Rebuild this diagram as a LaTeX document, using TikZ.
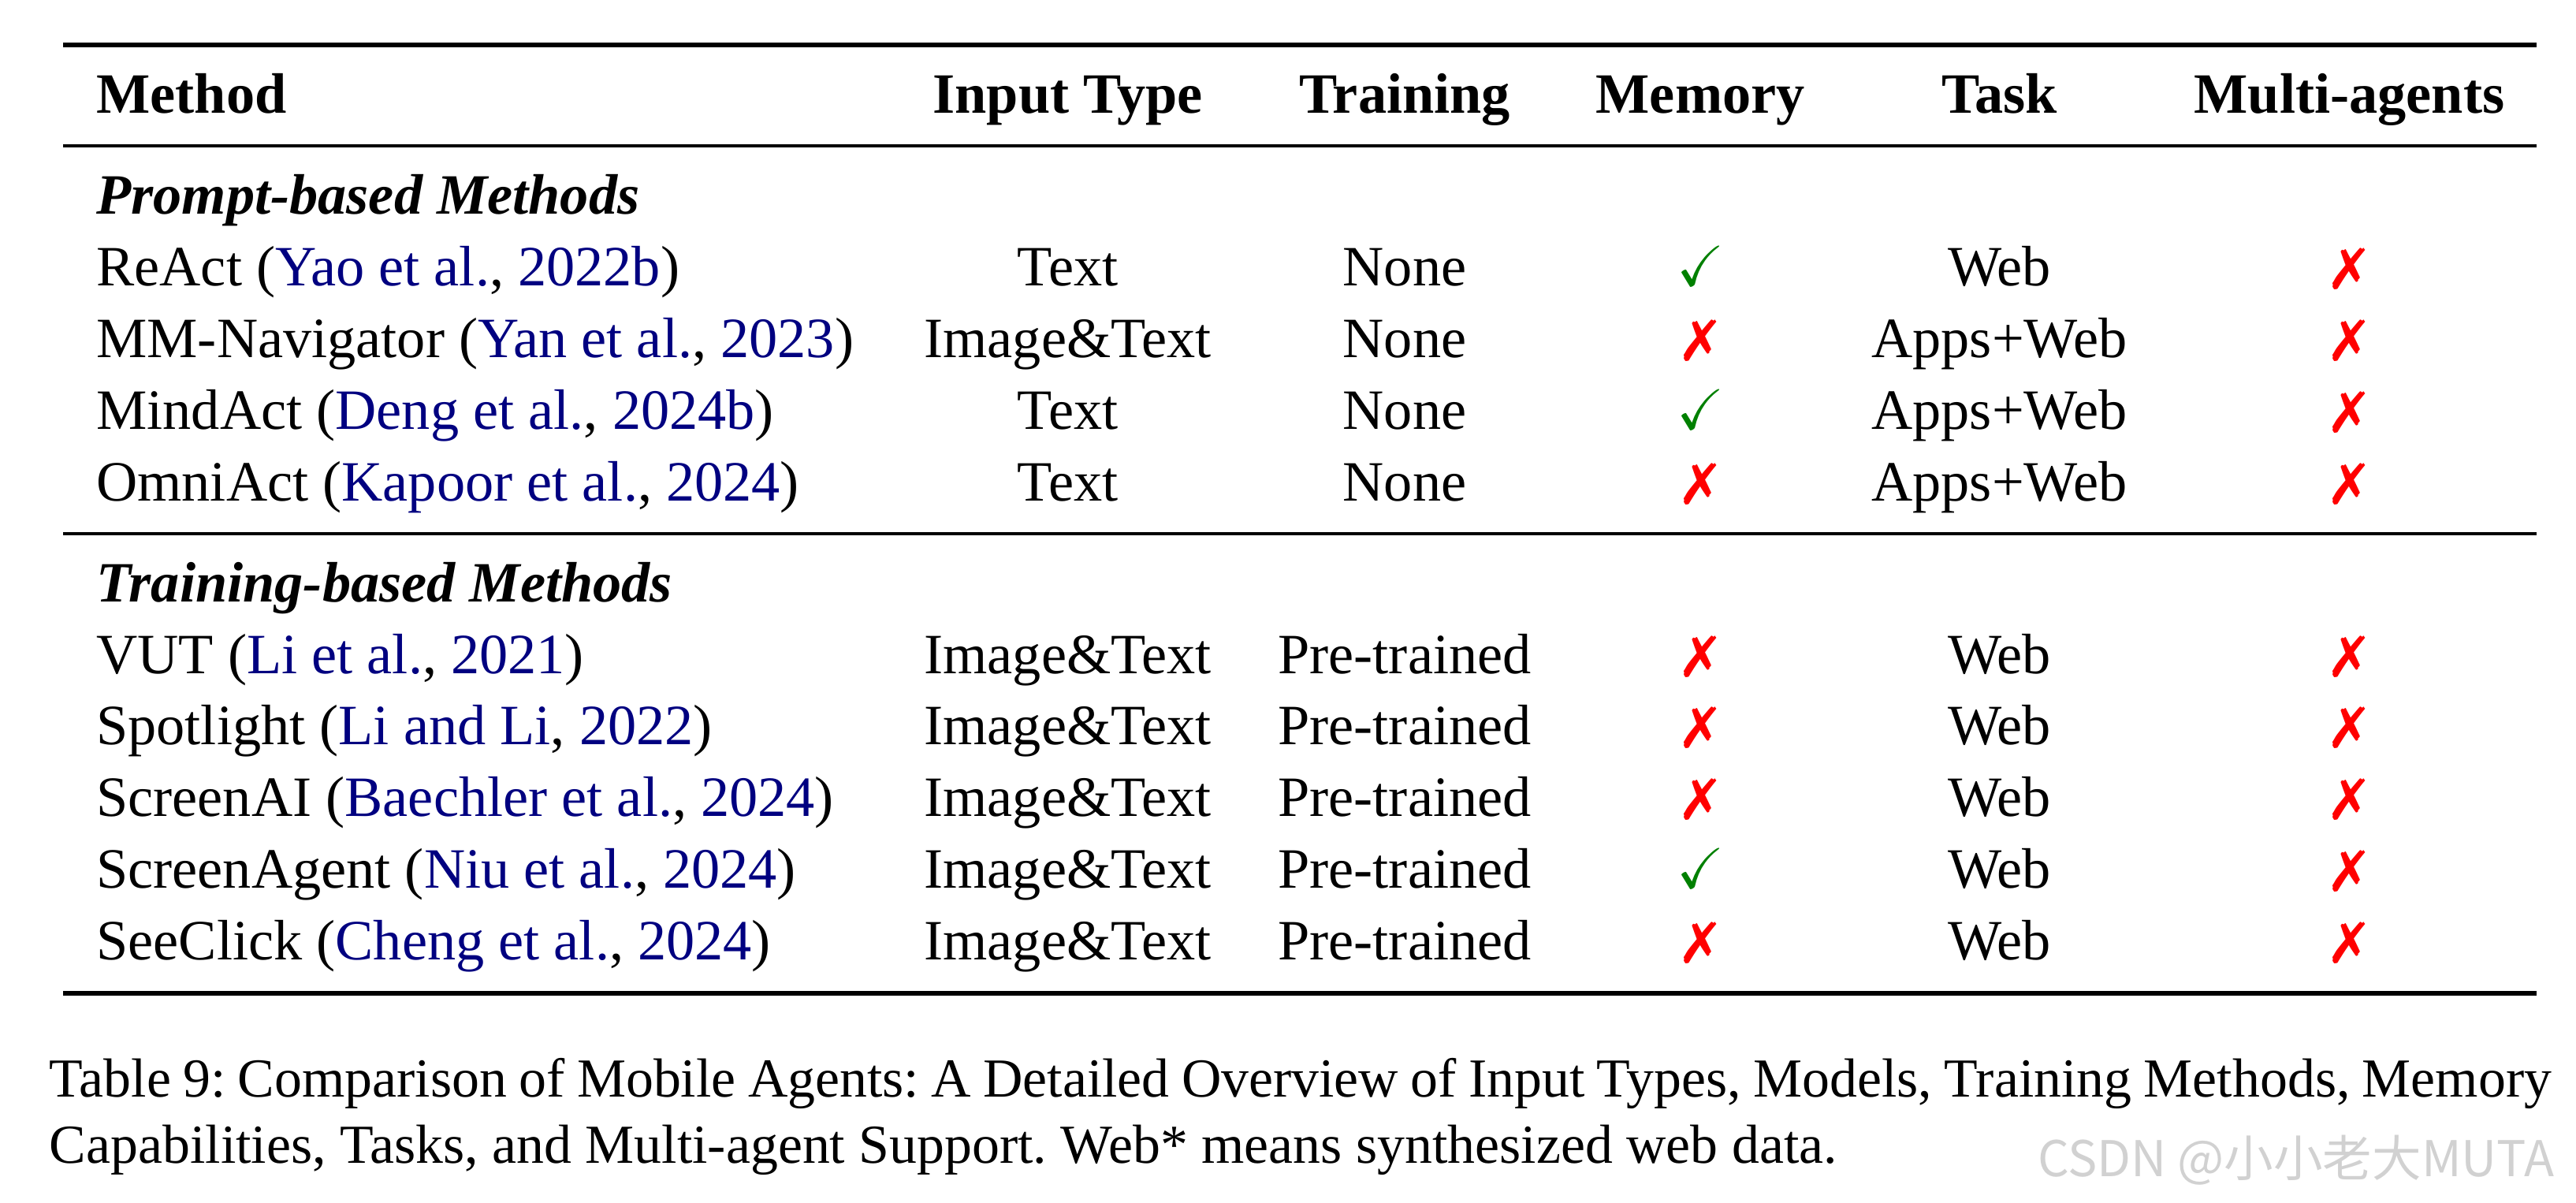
\documentclass[tikz,border=0pt]{standalone}
\usepackage{fontspec}
\setmainfont{Liberation Serif}
\newfontfamily\wmfont{Noto Sans CJK SC}
\usepackage{amssymb}
\usepackage{pifont}
\definecolor{citeblue}{rgb}{0,0,0.5}
\definecolor{okgreen}{rgb}{0,0.5,0}
\definecolor{wmgray}{gray}{0.82}
\newcommand{\ctn}[2]{(\textcolor{citeblue}{#1}, \textcolor{citeblue}{#2})}
\newcommand{\yesmark}{\textcolor{okgreen}{$\checkmark$}}
\newcommand{\nomark}{\textcolor{red}{\ding{55}}}
\frenchspacing
\begin{document}
\begin{tikzpicture}[x=1pt,y=-1pt,
  txt/.style={inner sep=0pt, outer sep=0pt, font=\fontsize{34.7}{40}\selectfont},
  lft/.style={txt, anchor=base west},
  ctr/.style={txt, anchor=base},
  thickrule/.style={line width=2.7pt},
  thinrule/.style={line width=1.9pt}]
\useasboundingbox (0,0) rectangle (1568,731.7);

% column x positions
\def\cA{58.7}
\def\cB{650}
\def\cC{855}
\def\cD{1035}
\def\cE{1217}
\def\cF{1430}

% rules
\draw[thickrule] (38.5,27.4) -- (1544,27.4);
\draw[thinrule] (38.5,88.9) -- (1544,88.9);
\draw[thinrule] (38.5,324.8) -- (1544,324.8);
\draw[thickrule] (38.5,604.6) -- (1544,604.6);

% header
\node[lft] (hA) at (\cA,68.8) {\bfseries Method};
\node[ctr] (hB) at (\cB,68.8) {\bfseries Input Type};
\node[ctr] (hC) at (\cC,68.8) {\bfseries Training};
\node[ctr] (hD) at (\cD,68.8) {\bfseries Memory};
\node[ctr] (hE) at (\cE,68.8) {\bfseries Task};
\node[ctr] (hF) at (\cF,68.8) {\bfseries Multi-agents};

% prompt-based
\node[lft] (s1) at (\cA,130.4) {\bfseries\itshape Prompt-based Methods};

\node[lft] (r1A) at (\cA,174) {ReAct \ctn{Yao et al.}{2022b}};
\node[ctr] (r1B) at (\cB,174) {Text};
\node[ctr] (r1C) at (\cC,174) {None};
\node[ctr] (r1D) at (\cD,174) {\yesmark};
\node[ctr] (r1E) at (\cE,174) {Web};
\node[ctr] (r1F) at (\cF,174) {\nomark};

\node[lft] (r2A) at (\cA,217.6) {MM-Navigator \ctn{Yan et al.}{2023}};
\node[ctr] (r2B) at (\cB,217.6) {Image\&Text};
\node[ctr] (r2C) at (\cC,217.6) {None};
\node[ctr] (r2D) at (\cD,217.6) {\nomark};
\node[ctr] (r2E) at (\cE,217.6) {Apps+Web};
\node[ctr] (r2F) at (\cF,217.6) {\nomark};

\node[lft] (r3A) at (\cA,261.2) {MindAct \ctn{Deng et al.}{2024b}};
\node[ctr] (r3B) at (\cB,261.2) {Text};
\node[ctr] (r3C) at (\cC,261.2) {None};
\node[ctr] (r3D) at (\cD,261.2) {\yesmark};
\node[ctr] (r3E) at (\cE,261.2) {Apps+Web};
\node[ctr] (r3F) at (\cF,261.2) {\nomark};

\node[lft] (r4A) at (\cA,304.8) {OmniAct \ctn{Kapoor et al.}{2024}};
\node[ctr] (r4B) at (\cB,304.8) {Text};
\node[ctr] (r4C) at (\cC,304.8) {None};
\node[ctr] (r4D) at (\cD,304.8) {\nomark};
\node[ctr] (r4E) at (\cE,304.8) {Apps+Web};
\node[ctr] (r4F) at (\cF,304.8) {\nomark};

% training-based
\node[lft] (s2) at (\cA,366.2) {\bfseries\itshape Training-based Methods};

\node[lft] (r5A) at (\cA,409.8) {VUT \ctn{Li et al.}{2021}};
\node[ctr] (r5B) at (\cB,409.8) {Image\&Text};
\node[ctr] (r5C) at (\cC,409.8) {Pre-trained};
\node[ctr] (r5D) at (\cD,409.8) {\nomark};
\node[ctr] (r5E) at (\cE,409.8) {Web};
\node[ctr] (r5F) at (\cF,409.8) {\nomark};

\node[lft] (r6A) at (\cA,453.4) {Spotlight \ctn{Li and Li}{2022}};
\node[ctr] (r6B) at (\cB,453.4) {Image\&Text};
\node[ctr] (r6C) at (\cC,453.4) {Pre-trained};
\node[ctr] (r6D) at (\cD,453.4) {\nomark};
\node[ctr] (r6E) at (\cE,453.4) {Web};
\node[ctr] (r6F) at (\cF,453.4) {\nomark};

\node[lft] (r7A) at (\cA,497) {ScreenAI \ctn{Baechler et al.}{2024}};
\node[ctr] (r7B) at (\cB,497) {Image\&Text};
\node[ctr] (r7C) at (\cC,497) {Pre-trained};
\node[ctr] (r7D) at (\cD,497) {\nomark};
\node[ctr] (r7E) at (\cE,497) {Web};
\node[ctr] (r7F) at (\cF,497) {\nomark};

\node[lft] (r8A) at (\cA,540.6) {ScreenAgent \ctn{Niu et al.}{2024}};
\node[ctr] (r8B) at (\cB,540.6) {Image\&Text};
\node[ctr] (r8C) at (\cC,540.6) {Pre-trained};
\node[ctr] (r8D) at (\cD,540.6) {\yesmark};
\node[ctr] (r8E) at (\cE,540.6) {Web};
\node[ctr] (r8F) at (\cF,540.6) {\nomark};

\node[lft] (r9A) at (\cA,584.2) {SeeClick \ctn{Cheng et al.}{2024}};
\node[ctr] (r9B) at (\cB,584.2) {Image\&Text};
\node[ctr] (r9C) at (\cC,584.2) {Pre-trained};
\node[ctr] (r9D) at (\cD,584.2) {\nomark};
\node[ctr] (r9E) at (\cE,584.2) {Web};
\node[ctr] (r9F) at (\cF,584.2) {\nomark};

% caption
\node[inner sep=0pt, anchor=base west, font=\fontsize{33.5}{39}\selectfont] (cap1) at (30,667.8)
  {\hbox to 1523pt{Table 9: Comparison of Mobile Agents: A Detailed Overview of Input Types, Models, Training Methods, Memory}};
\node[inner sep=0pt, anchor=base west, font=\fontsize{33.5}{39}\selectfont] (cap2) at (30,707.8)
  {Capabilities, Tasks, and Multi-agent Support. Web* means synthesized web data.};

% watermark
\node[inner sep=0pt, anchor=base east, text=wmgray, font=\wmfont\fontsize{30}{33}\selectfont] (wm) at (1555,716)
  {CSDN @小小老大MUTA};
\end{tikzpicture}
\end{document}
